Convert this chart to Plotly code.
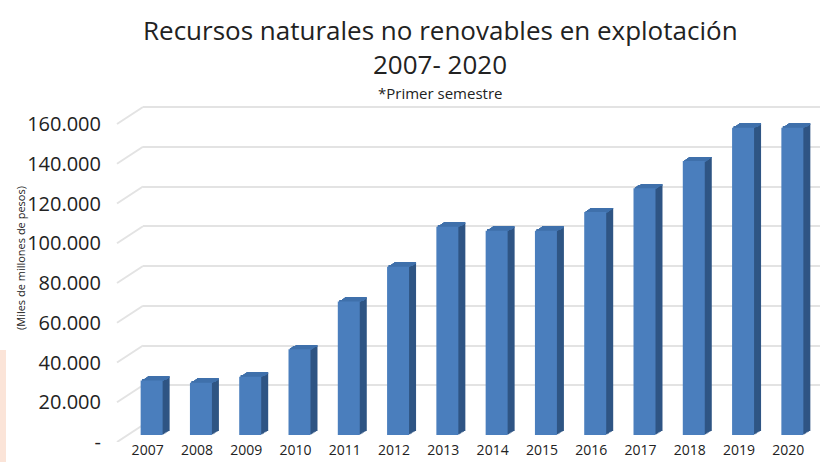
import plotly.graph_objects as go

years = ["2007", "2008", "2009", "2010", "2011", "2012", "2013",
         "2014", "2015", "2016", "2017", "2018", "2019", "2020"]
values = [27400, 26300, 29400, 43200, 67200, 84800, 104900,
          102900, 102900, 112300, 124300, 138000, 154800, 154800]
tick_vals = [0, 20000, 40000, 60000, 80000, 100000, 120000, 140000, 160000]
tick_text = ["-", "20.000", "40.000", "60.000", "80.000", "100.000",
             "120.000", "140.000", "160.000"]

W, H = 820, 462
PX = 39.7 / 20000  # px per unit (front faces)
PXW = 39.75 / 20000  # px per unit (walls)

def fy(p):  # pixel y -> paper fraction
    return 1 - p / H

def fx(p):
    return p / W

FRONT = "#4a7ebd"
SIDE = "#2f5584"
TOP = "#3f70ab"

bw = 0.446          # bar width in category units
dx = 0.142          # depth shift (right)
dy = 4 / PX         # depth shift (up) in data units
N = 5               # steps used to approximate the 3D depth

fig = go.Figure()
# back-wall grid subplot (drawn first, underneath)
fig.add_trace(go.Scatter(x=[0], y=[None], xaxis="x", yaxis="y",
                         showlegend=False, hoverinfo="skip"))
# side faces (stacked steps of depth)
for k in range(N, 0, -1):
    t = k / N
    fig.add_trace(go.Bar(x=years, y=values, base=[t * dy] * len(values),
                         width=bw, offset=-bw / 2 + t * dx, marker_color=SIDE,
                         xaxis="x2", yaxis="y2", marker_line_width=0,
                         hoverinfo="skip", showlegend=False))
# top faces (thin strips at each depth step)
for k in range(N, 0, -1):
    t = k / N
    fig.add_trace(go.Bar(x=years, y=[dy / N] * len(values),
                         base=[v + (k - 1) * dy / N for v in values],
                         width=bw, offset=-bw / 2 + t * dx, marker_color=TOP,
                         xaxis="x2", yaxis="y2", marker_line_width=0,
                         hoverinfo="skip", showlegend=False))
# front faces
fig.add_trace(go.Bar(x=years, y=values, width=bw, offset=-bw / 2,
                     xaxis="x2", yaxis="y2",
                     marker_color=FRONT, marker_line_width=0, showlegend=False))
# value labels axis
fig.add_trace(go.Scatter(x=[years[0]], y=[None], xaxis="x2", yaxis="y3",
                         showlegend=False, hoverinfo="skip"))

y_top_px = 95
fig.update_layout(
    width=W, height=H,
    margin=dict(l=0, r=0, t=0, b=0),
    paper_bgcolor="white", plot_bgcolor="rgba(0,0,0,0)",
    template="none",
    barmode="overlay",
    font=dict(family="Open Sans", color="#222222"),
    xaxis=dict(domain=[fx(143), 1], range=[0, 1], visible=False,
               anchor="y"),
    yaxis=dict(domain=[fy(425), fy(y_top_px)],
               range=[0, (425 - y_top_px) / PXW],
               anchor="x", tickvals=tick_vals, showticklabels=False,
               showgrid=True, gridcolor="#e3e3e3", gridwidth=2,
               zeroline=False, ticks="", showline=False, automargin=False),
    xaxis2=dict(type="category", categoryorder="array", categoryarray=years,
                domain=[fx(127), fx(817)], range=[-0.5, 13.5], anchor="y2",
                showgrid=False, showline=False, zeroline=False, ticks="",
                tickfont=dict(size=14, color="#222222"),
                ticklabelshift=-4, ticklabelstandoff=5, automargin=False),
    yaxis2=dict(domain=[fy(435), fy(y_top_px)], anchor="x2",
                range=[0, (435 - y_top_px) / PX],
                showgrid=False, zeroline=False, showticklabels=False,
                ticks="", automargin=False),
    yaxis3=dict(domain=[fy(442), fy(y_top_px)],
                range=[0, (442 - y_top_px) / PXW],
                anchor="free", position=fx(101),
                tickvals=tick_vals, ticktext=tick_text,
                tickfont=dict(size=20, color="#222222"),
                showgrid=False, zeroline=False, showline=False, ticks="",
                automargin=False),
)

shift = 17 / PXW
for v in tick_vals:
    fig.add_shape(type="line", xref="paper", yref="y3",
                  x0=fx(117), x1=fx(143), y0=v, y1=v + shift,
                  line=dict(color="#e3e3e3", width=2), layer="below")

fig.add_shape(type="rect", xref="paper", yref="paper",
              x0=0, x1=fx(6), y0=0, y1=fy(350),
              fillcolor="#fbe4d8", line_width=0, layer="below")

ann_font = dict(color="#222222")
fig.add_annotation(text="Recursos naturales no renovables en explotación",
                   x=fx(440), y=fy(30), xref="paper", yref="paper",
                   xanchor="center", yanchor="middle",
                   showarrow=False, font=dict(size=26, **ann_font))
fig.add_annotation(text="2007- 2020",
                   x=fx(440), y=fy(64), xref="paper", yref="paper",
                   xanchor="center", yanchor="middle",
                   showarrow=False, font=dict(size=26, **ann_font))
fig.add_annotation(text="*Primer semestre",
                   x=fx(440), y=fy(93), xref="paper", yref="paper",
                   xanchor="center", yanchor="middle",
                   showarrow=False, font=dict(size=15, **ann_font))
fig.add_annotation(text="(Miles de millones de pesos)",
                   x=fx(20), y=fy(258), xref="paper", yref="paper",
                   xanchor="center", yanchor="middle",
                   textangle=-90, showarrow=False,
                   font=dict(size=11, **ann_font))

fig.write_html("out.html", config={"displayModeBar": False},
               post_script="document.body.style.margin='0';")
